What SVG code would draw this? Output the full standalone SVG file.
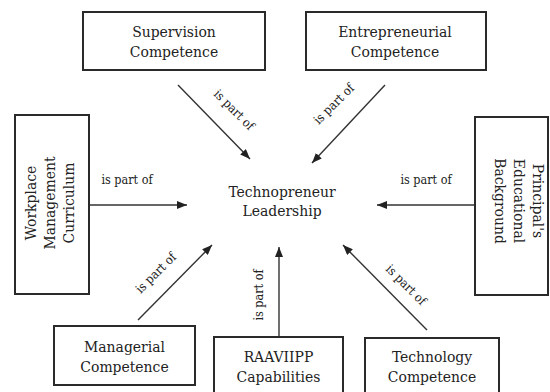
<svg xmlns="http://www.w3.org/2000/svg" width="550" height="392" viewBox="0 0 550 392">
<style>
.box{fill:#fff;stroke:#2a2a2a;stroke-width:2}
text{font-family:'DejaVu Serif Condensed','DejaVu Serif',serif;font-stretch:condensed;fill:#222;text-anchor:middle}
.t{font-size:15.5px}
.l{font-size:12.5px}
.c{stroke:#333;stroke-width:1.4;fill:none;marker-end:url(#ah)}
</style>
<defs>
<marker id="ah" viewBox="0 0 10 8" refX="10" refY="4" markerWidth="10" markerHeight="8" markerUnits="userSpaceOnUse" orient="auto">
<path d="M0,0 L10,4 L0,8 Z" fill="#222"/>
</marker>
</defs>
<rect width="550" height="392" fill="#fff"/>
<g id="connectors">
<line class="c" x1="178" y1="85" x2="250" y2="159"/>
<line class="c" x1="385" y1="85" x2="312" y2="163"/>
<line class="c" x1="89" y1="205" x2="187" y2="205"/>
<line class="c" x1="475" y1="205" x2="377" y2="205"/>
<line class="c" x1="138" y1="320" x2="212" y2="245"/>
<line class="c" x1="279" y1="337" x2="279" y2="247"/>
<line class="c" x1="427" y1="330" x2="343" y2="245"/>
<text class="l" transform="translate(234,110) rotate(45)" y="4">is part of</text>
<text class="l" transform="translate(334,104) rotate(-45)" y="4">is part of</text>
<text class="l" x="127" y="184">is part of</text>
<text class="l" x="426" y="184">is part of</text>
<text class="l" transform="translate(156,273) rotate(-45)" y="4">is part of</text>
<text class="l" transform="translate(259,295) rotate(-90)" y="4">is part of</text>
<text class="l" transform="translate(406,285) rotate(45)" y="4">is part of</text>
</g>
<g id="center">
<text class="t" x="282" y="197">Technopreneur</text>
<text class="t" x="282" y="216">Leadership</text>
</g>
<g id="supervision">
<rect class="box" x="83" y="12" width="182" height="58"/>
<text class="t" x="174" y="37">Supervision</text>
<text class="t" x="174" y="57">Competence</text>
</g>
<g id="entrepreneurial">
<rect class="box" x="306" y="12" width="180" height="58"/>
<text class="t" x="395" y="37">Entrepreneurial</text>
<text class="t" x="395" y="57">Competence</text>
</g>
<g id="workplace">
<rect class="box" x="15" y="115" width="74" height="179"/>
<g transform="translate(0,203) rotate(-90)">
<text class="t" x="0" y="36">Workplace</text>
<text class="t" x="0" y="55">Management</text>
<text class="t" x="0" y="74">Curriculum</text>
</g>
</g>
<g id="principal">
<rect class="box" x="475" y="117" width="73" height="178"/>
<g transform="translate(0,201) rotate(90)">
<text class="t" x="0" y="-533">Principal's</text>
<text class="t" x="0" y="-514">Educational</text>
<text class="t" x="0" y="-495">Background</text>
</g>
</g>
<g id="managerial">
<rect class="box" x="54" y="326" width="141" height="59"/>
<text class="t" x="124.5" y="352">Managerial</text>
<text class="t" x="124.5" y="372">Competence</text>
</g>
<g id="raaviipp">
<rect class="box" x="214" y="337" width="129" height="60"/>
<text class="t" x="278.5" y="362">RAAVIIPP</text>
<text class="t" x="278.5" y="382">Capabilities</text>
</g>
<g id="technology">
<rect class="box" x="365" y="338" width="134" height="59"/>
<text class="t" x="432" y="362">Technology</text>
<text class="t" x="432" y="382">Competence</text>
</g>
</svg>
